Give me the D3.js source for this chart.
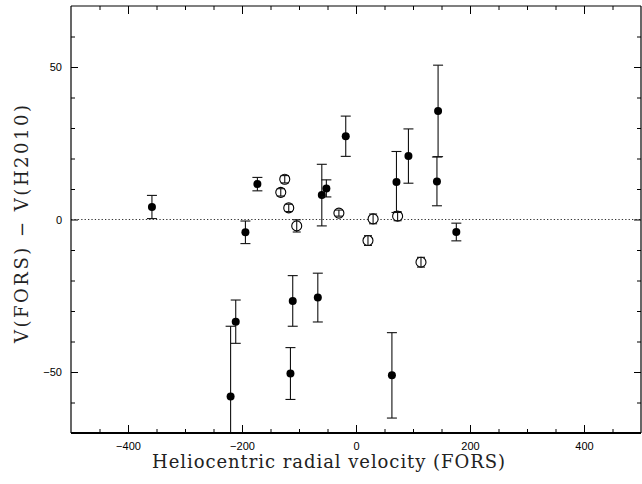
<!DOCTYPE html>
<html><head><meta charset="utf-8">
<script src="https://cdn.jsdelivr.net/npm/d3@7"></script>
<style>html,body{margin:0;padding:0;background:#fff;}</style>
</head><body>
<svg id="c" width="642" height="484"></svg>
<script>
// Filled points: [velocity, difference, error]
const filledX = [-358, -194, -173, -220, -211, -115, -111, -67, -60, -52, -18, 63, 71, 92, 144, 142, 176];
const filledY = [4.1, -4.2, 11.6, -58.0, -33.5, -50.5, -26.7, -25.6, 8.0, 10.2, 27.3, -51.1, 12.3, 20.8, 35.6, 12.5, -4.1];
const filledE = [3.8, 3.7, 2.2, 23.0, 7.1, 8.5, 8.3, 8.0, 10.1, 2.8, 6.6, 14.0, 10.0, 8.9, 15.0, 8.0, 2.9];
// Open points
const openX = [-125, -132, -118, -104, -30, 30, 21, 73, 114];
const openY = [13.2, 8.9, 3.8, -2.1, 2.1, 0.2, -6.9, 1.1, -14.0];
const openE = [1.2, 1.2, 1.2, 2.0, 1.0, 1.6, 1.6, 1.5, 1.6];
const xTickLabels = [-400, -200, 0, 200, 400];
const yTickLabels = [-50, 0, 50];

const svg = d3.select("#c");
const L = 71, R = 641, T = 6, B = 433;
const x = d3.scaleLinear().domain([-500, 500]).range([L, R]);
const y = d3.scaleLinear().domain([-70, 70]).range([B, T]);

svg.append("clipPath").attr("id", "clp").append("rect")
  .attr("x", L).attr("y", T).attr("width", R - L).attr("height", B - T);

// zero line
svg.append("line").attr("x1", L).attr("x2", R).attr("y1", y(0)).attr("y2", y(0))
  .attr("stroke", "#333").attr("stroke-width", 1).attr("stroke-dasharray", "1.3,2.1");

const xMinor = d3.range(-450, 500, 50).filter(v => v % 200 !== 0);
const yMinor = d3.range(-60, 70, 10).filter(v => v % 50 !== 0);
function ticks(axisGen, g, keepText) {
  g.call(axisGen);
  g.select(".domain").remove();
  g.selectAll("line").attr("stroke", "#000");
  if (!keepText) g.selectAll("text").remove();
}
const fontSans = "'Liberation Sans', Arial, sans-serif";
// bottom
const gb = svg.append("g").attr("transform", `translate(0,${B})`);
ticks(d3.axisBottom(x).tickValues(xTickLabels).tickSize(-8).tickFormat(d3.format("d")), gb, true);
gb.selectAll("text").attr("font-family", fontSans).attr("font-size", 11).attr("fill", "#000").attr("dy", "0.71em").attr("y", 9);
ticks(d3.axisBottom(x).tickValues(xMinor).tickSize(-4), svg.append("g").attr("transform", `translate(0,${B})`));
// top
ticks(d3.axisTop(x).tickValues(xTickLabels).tickSize(-8), svg.append("g").attr("transform", `translate(0,${T})`));
ticks(d3.axisTop(x).tickValues(xMinor).tickSize(-4), svg.append("g").attr("transform", `translate(0,${T})`));
// left
const gl = svg.append("g").attr("transform", `translate(${L},0)`);
ticks(d3.axisLeft(y).tickValues(yTickLabels).tickSize(-7).tickFormat(d3.format("d")), gl, true);
gl.selectAll("text").attr("font-family", fontSans).attr("font-size", 11).attr("fill", "#000").attr("x", -9);
ticks(d3.axisLeft(y).tickValues(yMinor).tickSize(-4), svg.append("g").attr("transform", `translate(${L},0)`));
// right
ticks(d3.axisRight(y).tickValues(yTickLabels).tickSize(-7), svg.append("g").attr("transform", `translate(${R},0)`));
ticks(d3.axisRight(y).tickValues(yMinor).tickSize(-4), svg.append("g").attr("transform", `translate(${R},0)`));

// frame
svg.append("line").attr("x1", L).attr("x2", R).attr("y1", T).attr("y2", T).attr("stroke", "#000").attr("stroke-width", 1.2);
svg.append("line").attr("x1", L).attr("x2", L).attr("y1", T).attr("y2", B).attr("stroke", "#000").attr("stroke-width", 1.2);
svg.append("line").attr("x1", R).attr("x2", R).attr("y1", T).attr("y2", B).attr("stroke", "#000").attr("stroke-width", 1.2);

const plot = svg.append("g").attr("clip-path", "url(#clp)");

function errorBar(g, cx, cy, e, cap) {
  g.append("line").attr("x1", x(cx)).attr("x2", x(cx)).attr("y1", y(cy - e)).attr("y2", y(cy + e))
    .attr("stroke", "#111").attr("stroke-width", 1.1);
  [cy - e, cy + e].forEach(v => {
    g.append("line").attr("x1", x(cx) - cap).attr("x2", x(cx) + cap).attr("y1", y(v)).attr("y2", y(v))
      .attr("stroke", "#111").attr("stroke-width", 1.1);
  });
}

openX.forEach((vx, i) => {
  plot.append("circle").attr("cx", x(vx)).attr("cy", y(openY[i])).attr("r", 5)
    .attr("fill", "#fff").attr("stroke", "#000").attr("stroke-width", 1.1);
  errorBar(plot, vx, openY[i], openE[i], 4);
});
filledX.forEach((vx, i) => {
  errorBar(plot, vx, filledY[i], filledE[i], 5);
  plot.append("circle").attr("cx", x(vx)).attr("cy", y(filledY[i])).attr("r", 4).attr("fill", "#000");
});

svg.append("line").attr("x1", L).attr("x2", R).attr("y1", B).attr("y2", B).attr("stroke", "#000").attr("stroke-width", 2.2);

// titles
const fontSerif = "'DejaVu Serif', 'Liberation Serif', serif";
svg.append("text").attr("x", 152).attr("y", 468).attr("font-family", fontSerif).attr("font-size", 18)
  .attr("textLength", 353).attr("lengthAdjust", "spacing").attr("fill", "#222")
  .text("Heliocentric radial velocity (FORS)");
svg.append("text").attr("transform", "translate(28,343) rotate(-90)").attr("font-family", fontSerif).attr("font-size", 18)
  .attr("textLength", 238).attr("lengthAdjust", "spacing").attr("fill", "#222")
  .text("V(FORS) \u2212 V(H2010)");
</script>
</body></html>
